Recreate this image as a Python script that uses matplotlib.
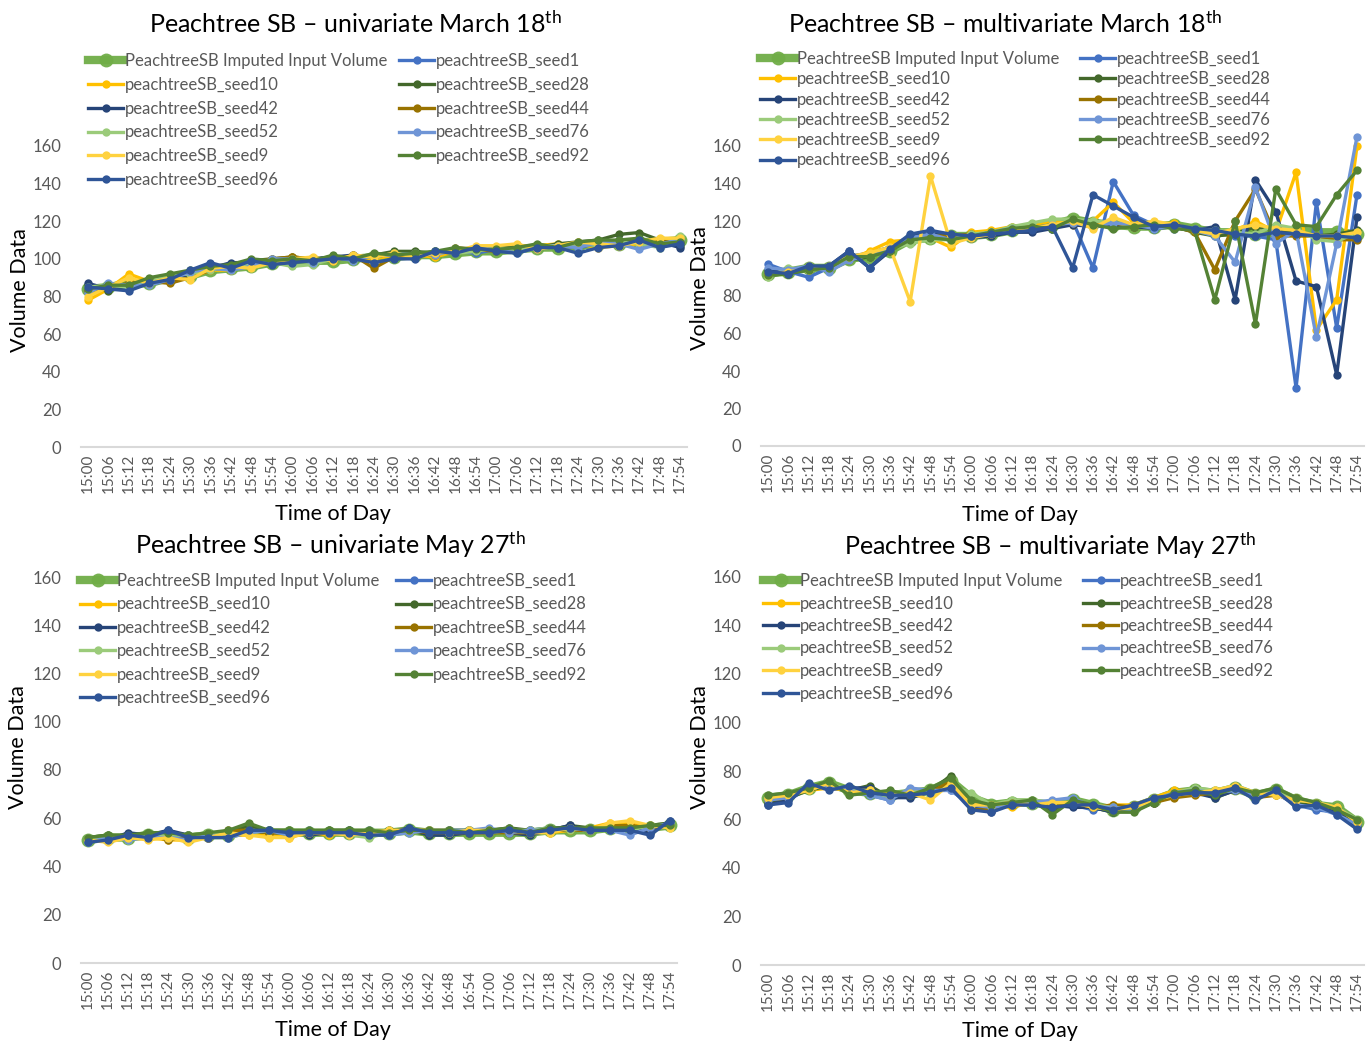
import matplotlib
matplotlib.use('Agg')
import matplotlib.pyplot as plt

plt.rcParams['font.family'] = ['Lato', 'DejaVu Sans']
plt.rcParams['mathtext.fontset'] = 'custom'
plt.rcParams['mathtext.rm'] = 'Lato'
plt.rcParams['mathtext.it'] = 'Lato:italic'
plt.rcParams['mathtext.bf'] = 'Lato:bold'

# ---------------- data ----------------
times = ["15:00", "15:06", "15:12", "15:18", "15:24", "15:30", "15:36", "15:42", "15:48", "15:54",
         "16:00", "16:06", "16:12", "16:18", "16:24", "16:30", "16:36", "16:42", "16:48", "16:54",
         "17:00", "17:06", "17:12", "17:18", "17:24", "17:30", "17:36", "17:42", "17:48", "17:54"]

series_names = ["PeachtreeSB Imputed Input Volume", "peachtreeSB_seed1", "peachtreeSB_seed10",
                "peachtreeSB_seed28", "peachtreeSB_seed42", "peachtreeSB_seed44", "peachtreeSB_seed52",
                "peachtreeSB_seed76", "peachtreeSB_seed9", "peachtreeSB_seed92", "peachtreeSB_seed96"]

y_ticks = [0, 20, 40, 60, 80, 100, 120, 140, 160]

# Univariate, March 18th
uni_mar_imputed = [84, 85, 87, 87, 90, 91, 94, 95, 96, 98, 99, 99, 99, 100, 101, 101, 102, 102, 103, 104, 104, 105, 106, 106, 107, 108, 108, 109, 109, 110]
uni_mar_seed1 = [83, 86, 84, 87, 90, 92, 95, 96, 97, 99, 100, 100, 101, 100, 102, 101, 103, 103, 104, 103, 105, 106, 105, 107, 106, 108, 109, 108, 110, 109]
uni_mar_seed10 = [78, 84, 92, 88, 90, 90, 94, 94, 97, 99, 101, 100, 100, 101, 100, 102, 102, 101, 104, 105, 106, 107, 107, 108, 108, 106, 107, 108, 110, 111]
uni_mar_seed28 = [86, 83, 86, 89, 91, 93, 96, 97, 99, 100, 101, 100, 100, 101, 102, 104, 104, 103, 105, 104, 106, 107, 106, 108, 109, 110, 113, 114, 110, 107]
uni_mar_seed42 = [87, 84, 86, 87, 88, 92, 95, 98, 98, 99, 99, 100, 101, 102, 101, 103, 102, 104, 103, 105, 106, 105, 107, 106, 108, 107, 110, 109, 109, 106]
uni_mar_seed44 = [83, 85, 87, 88, 87, 90, 94, 96, 98, 100, 101, 100, 99, 102, 95, 101, 103, 102, 106, 105, 104, 106, 106, 107, 108, 109, 108, 110, 109, 109]
uni_mar_seed52 = [85, 86, 85, 88, 91, 92, 94, 96, 97, 98, 96, 97, 100, 101, 101, 103, 102, 104, 103, 104, 106, 105, 107, 107, 108, 107, 109, 108, 106, 112]
uni_mar_seed76 = [82, 87, 86, 86, 89, 93, 95, 94, 96, 100, 100, 98, 101, 99, 102, 102, 103, 102, 105, 106, 105, 103, 106, 107, 106, 109, 108, 105, 108, 110]
uni_mar_seed9 = [80, 85, 90, 87, 90, 89, 95, 96, 95, 98, 100, 101, 99, 102, 101, 103, 101, 103, 104, 107, 107, 108, 105, 107, 109, 108, 107, 109, 111, 111]
uni_mar_seed92 = [84, 86, 86, 90, 92, 94, 96, 97, 100, 99, 100, 99, 102, 100, 103, 102, 103, 104, 106, 105, 105, 106, 108, 106, 109, 110, 110, 111, 108, 109]
uni_mar_seed96 = [85, 84, 83, 87, 89, 94, 98, 95, 99, 97, 98, 99, 100, 100, 98, 100, 100, 104, 103, 106, 104, 103, 106, 106, 103, 106, 107, 110, 106, 108]

# Multivariate, March 18th
multi_mar_imputed = [92, 93, 95, 95, 100, 101, 104, 110, 111, 112, 112, 113, 115, 117, 118, 121, 119, 118, 117, 117, 118, 116, 114, 114, 113, 114, 115, 114, 114, 113]
multi_mar_seed1 = [97, 93, 90, 95, 101, 103, 106, 112, 112, 111, 113, 114, 115, 117, 116, 120, 95, 141, 123, 118, 116, 116, 114, 112, 112, 110, 31, 130, 63, 134]
multi_mar_seed10 = [93, 92, 96, 94, 99, 104, 109, 110, 111, 106, 114, 115, 117, 118, 120, 118, 120, 130, 119, 118, 119, 114, 113, 115, 120, 114, 146, 62, 78, 160]
multi_mar_seed28 = [91, 92, 94, 96, 99, 101, 105, 109, 112, 111, 112, 113, 116, 117, 117, 119, 118, 118, 118, 117, 117, 114, 112, 113, 117, 115, 114, 112, 113, 115]
multi_mar_seed42 = [94, 92, 95, 96, 104, 95, 104, 112, 113, 112, 111, 112, 114, 114, 116, 118, 117, 118, 117, 116, 117, 115, 117, 78, 142, 125, 88, 85, 38, 122]
multi_mar_seed44 = [92, 93, 95, 94, 100, 102, 104, 110, 112, 112, 113, 113, 115, 116, 118, 119, 118, 119, 117, 118, 117, 114, 94, 120, 137, 112, 112, 112, 110, 110]
multi_mar_seed52 = [90, 95, 94, 96, 100, 102, 105, 108, 110, 110, 113, 114, 117, 119, 121, 121, 120, 119, 118, 119, 117, 116, 115, 114, 113, 118, 116, 110, 109, 114]
multi_mar_seed76 = [95, 94, 96, 93, 99, 102, 105, 111, 113, 110, 112, 114, 116, 116, 118, 119, 117, 119, 118, 116, 117, 115, 112, 98, 138, 108, 115, 58, 108, 165]
multi_mar_seed9 = [91, 93, 94, 96, 101, 103, 106, 77, 144, 108, 111, 113, 115, 116, 118, 120, 116, 122, 118, 120, 118, 115, 113, 116, 118, 116, 115, 112, 112, 114]
multi_mar_seed92 = [91, 92, 94, 95, 101, 101, 104, 110, 111, 110, 112, 114, 116, 117, 116, 121, 118, 116, 117, 118, 116, 115, 78, 120, 65, 137, 118, 117, 134, 147]
multi_mar_seed96 = [93, 92, 96, 96, 104, 95, 105, 113, 115, 113, 112, 113, 114, 115, 117, 95, 134, 128, 122, 117, 118, 116, 115, 113, 112, 114, 113, 112, 112, 111]

# Univariate, May 27th
uni_may_imputed = [51, 52, 52, 53, 53, 52, 53, 53, 55, 54, 54, 54, 54, 54, 54, 54, 55, 54, 54, 54, 54, 54, 54, 55, 55, 55, 56, 56, 56, 57]
uni_may_seed1 = [50, 52, 53, 52, 53, 52, 52, 53, 54, 55, 54, 54, 54, 55, 54, 53, 55, 55, 54, 55, 55, 55, 55, 56, 56, 55, 55, 55, 54, 58]
uni_may_seed10 = [51, 51, 52, 52, 51, 51, 52, 53, 53, 53, 52, 54, 53, 54, 53, 54, 55, 55, 55, 54, 54, 55, 55, 54, 55, 56, 58, 58, 56, 57]
uni_may_seed28 = [52, 53, 52, 54, 54, 53, 53, 54, 57, 55, 55, 54, 55, 55, 54, 55, 55, 53, 55, 55, 55, 56, 55, 55, 57, 56, 56, 55, 57, 58]
uni_may_seed42 = [51, 51, 54, 53, 55, 53, 52, 53, 55, 54, 54, 53, 54, 53, 54, 54, 56, 53, 53, 54, 55, 54, 53, 55, 57, 55, 56, 56, 54, 59]
uni_may_seed44 = [51, 52, 52, 53, 51, 52, 53, 55, 55, 54, 54, 54, 54, 54, 53, 54, 55, 54, 54, 54, 54, 54, 54, 55, 55, 55, 57, 57, 56, 57]
uni_may_seed52 = [52, 52, 51, 53, 53, 53, 54, 53, 54, 55, 55, 55, 54, 53, 52, 54, 54, 55, 54, 55, 54, 55, 55, 56, 55, 56, 56, 55, 57, 57]
uni_may_seed76 = [50, 52, 51, 52, 52, 51, 53, 52, 54, 55, 53, 55, 54, 54, 55, 53, 54, 55, 55, 55, 56, 54, 55, 55, 56, 55, 55, 53, 56, 58]
uni_may_seed9 = [51, 50, 52, 51, 52, 50, 52, 54, 53, 52, 52, 54, 54, 53, 54, 55, 55, 55, 54, 55, 55, 55, 54, 54, 56, 55, 58, 59, 57, 56]
uni_may_seed92 = [52, 53, 53, 54, 54, 53, 54, 55, 58, 55, 55, 55, 55, 55, 55, 54, 55, 55, 55, 54, 55, 56, 54, 56, 56, 56, 56, 56, 57, 57]
uni_may_seed96 = [50, 51, 53, 52, 55, 52, 52, 52, 55, 55, 54, 54, 54, 54, 53, 53, 56, 54, 54, 54, 54, 55, 54, 55, 56, 55, 55, 55, 53, 59]

# Multivariate, May 27th
multi_may_imputed = [69, 70, 73, 75, 72, 71, 70, 71, 72, 76, 69, 66, 67, 67, 66, 68, 66, 64, 65, 68, 71, 72, 71, 73, 70, 72, 68, 66, 65, 59]
multi_may_seed1 = [67, 68, 73, 73, 72, 70, 68, 71, 72, 72, 66, 64, 66, 66, 67, 66, 64, 65, 64, 67, 70, 71, 70, 73, 70, 72, 66, 64, 63, 58]
multi_may_seed10 = [68, 70, 72, 73, 72, 71, 71, 71, 72, 75, 66, 66, 65, 67, 66, 66, 65, 66, 66, 69, 72, 72, 70, 72, 70, 70, 68, 66, 64, 58]
multi_may_seed28 = [67, 69, 72, 74, 72, 74, 69, 70, 72, 78, 65, 64, 67, 67, 64, 67, 65, 63, 65, 68, 70, 72, 69, 72, 71, 72, 67, 66, 65, 58]
multi_may_seed42 = [66, 68, 74, 73, 73, 73, 69, 69, 71, 74, 66, 63, 67, 67, 66, 65, 65, 63, 65, 67, 70, 71, 69, 72, 70, 71, 66, 65, 63, 57]
multi_may_seed44 = [68, 69, 73, 74, 72, 72, 70, 70, 71, 76, 64, 64, 66, 67, 66, 67, 65, 66, 65, 67, 69, 70, 71, 74, 69, 70, 69, 66, 65, 59]
multi_may_seed52 = [69, 71, 72, 75, 72, 72, 69, 72, 70, 74, 71, 66, 68, 68, 67, 67, 66, 65, 64, 68, 71, 73, 72, 74, 70, 72, 68, 67, 65, 60]
multi_may_seed76 = [68, 69, 73, 74, 72, 70, 68, 73, 72, 72, 66, 65, 66, 67, 68, 69, 65, 65, 64, 68, 71, 72, 71, 72, 70, 71, 66, 65, 62, 58]
multi_may_seed9 = [69, 70, 72, 75, 71, 72, 70, 71, 68, 75, 66, 66, 67, 66, 67, 67, 65, 64, 65, 68, 70, 71, 72, 74, 71, 70, 68, 67, 65, 59]
multi_may_seed92 = [70, 71, 73, 76, 70, 71, 72, 70, 73, 77, 68, 66, 67, 68, 62, 68, 66, 63, 63, 67, 71, 72, 70, 73, 71, 73, 69, 67, 64, 60]
multi_may_seed96 = [66, 67, 75, 72, 74, 71, 70, 70, 71, 73, 64, 63, 66, 66, 65, 66, 66, 64, 66, 69, 70, 71, 71, 73, 68, 72, 65, 66, 62, 56]

# ---------------- styling ----------------
colors = ["#70AD47", "#4472C4", "#FFC000", "#43682B", "#264478", "#997300",
          "#9BCB7A", "#6F95D6", "#FFD23F", "#548235", "#2F5597"]

W, H = 1372, 1043
fig = plt.figure(figsize=(W / 100, H / 100), dpi=100)
GRAY = "#595959"
LEG_FS = 12
LEG_PX = LEG_FS * 100 / 72.0
ROW_BASE = 16.2


def fx(x):
    return x / W


def fy(y):
    return 1 - y / H


panels = [
    dict(title="Peachtree SB \u2013 univariate March 18$^{\\mathrm{th}}$",
         data=[uni_mar_imputed, uni_mar_seed1, uni_mar_seed10, uni_mar_seed28, uni_mar_seed42,
               uni_mar_seed44, uni_mar_seed52, uni_mar_seed76, uni_mar_seed9, uni_mar_seed92, uni_mar_seed96],
         x0=88, x29=680, y0=447, y160=146, ymax=180,
         title_xy=(355, 24), ylab_xy=(20, 290), xlab_xy=(333, 514),
         leg_xy=(88, 53), leg_sp=24, colsp=12),
    dict(title="Peachtree SB \u2013 multivariate March 18$^{\\mathrm{th}}$",
         data=[multi_mar_imputed, multi_mar_seed1, multi_mar_seed10, multi_mar_seed28, multi_mar_seed42,
               multi_mar_seed44, multi_mar_seed52, multi_mar_seed76, multi_mar_seed9, multi_mar_seed92, multi_mar_seed96],
         x0=768, x29=1357, y0=446, y160=146, ymax=180,
         title_xy=(1005, 24), ylab_xy=(700, 288), xlab_xy=(1020, 515),
         leg_xy=(760, 51), leg_sp=20.5, colsp=21),
    dict(title="Peachtree SB \u2013 univariate May 27$^{\\mathrm{th}}$",
         data=[uni_may_imputed, uni_may_seed1, uni_may_seed10, uni_may_seed28, uni_may_seed42,
               uni_may_seed44, uni_may_seed52, uni_may_seed76, uni_may_seed9, uni_may_seed92, uni_may_seed96],
         x0=88, x29=670, y0=963, y160=577, ymax=160,
         title_xy=(330, 545), ylab_xy=(18, 747), xlab_xy=(333, 1030),
         leg_xy=(80, 573), leg_sp=23.6, colsp=17),
    dict(title="Peachtree SB \u2013 multivariate May 27$^{\\mathrm{th}}$",
         data=[multi_may_imputed, multi_may_seed1, multi_may_seed10, multi_may_seed28, multi_may_seed42,
               multi_may_seed44, multi_may_seed52, multi_may_seed76, multi_may_seed9, multi_may_seed92, multi_may_seed96],
         x0=768, x29=1357, y0=965, y160=577, ymax=160,
         title_xy=(1050, 546), ylab_xy=(700, 747), xlab_xy=(1020, 1031),
         leg_xy=(763, 573), leg_sp=22.7, colsp=21),
]

order = [0, 2, 4, 6, 8, 10, 1, 3, 5, 7, 9]

for p in panels:
    ppx = (p["x29"] - p["x0"]) / 29.0
    ppy = (p["y0"] - p["y160"]) / 160.0
    pad = 0.35
    left = p["x0"] - pad * ppx
    width = (29 + 2 * pad) * ppx
    bottom = p["y0"]
    height = p["ymax"] * ppy
    ax = fig.add_axes([fx(left), fy(bottom), width / W, height / H])
    ax.set_xlim(-pad, 29 + pad)
    ax.set_ylim(0, p["ymax"])
    xs = list(range(len(times)))
    handles = []
    for k, (name, vals) in enumerate(zip(series_names, p["data"])):
        if k == 0:
            ln, = ax.plot(xs, vals, color=colors[k], lw=6, marker='o', ms=10,
                          markeredgewidth=0, label=name, zorder=2, alpha=0.95)
        else:
            ln, = ax.plot(xs, vals, color=colors[k], lw=2.4, marker='o', ms=6,
                          markeredgewidth=0, label=name, zorder=3 + k)
        handles.append(ln)
    for s in ["top", "right", "left"]:
        ax.spines[s].set_visible(False)
    ax.spines["bottom"].set_color("#D9D9D9")
    ax.spines["bottom"].set_linewidth(1.5)
    ax.set_xticks(xs)
    ax.set_xticklabels(times, rotation=90, fontsize=11, color=GRAY)
    ax.set_yticks(y_ticks)
    ax.set_yticklabels([str(v) for v in y_ticks], fontsize=12, color=GRAY)
    ax.tick_params(length=0)
    ax.tick_params(axis='y', pad=14)
    ax.tick_params(axis='x', pad=5)

    fig.text(fx(p["title_xy"][0]), fy(p["title_xy"][1]), p["title"], ha='center', va='center',
             fontsize=18, color='black')
    fig.text(fx(p["ylab_xy"][0]), fy(p["ylab_xy"][1]), "Volume Data", rotation=90, ha='center',
             va='center', fontsize=15.5, color='black')
    fig.text(fx(p["xlab_xy"][0]), fy(p["xlab_xy"][1]), "Time of Day", ha='center', va='center',
             fontsize=15.5, color='black')

    hs = [handles[i] for i in order]
    ls = [series_names[i] for i in order]
    leg = fig.legend(hs, ls, loc='upper left', bbox_to_anchor=(fx(p["leg_xy"][0]), fy(p["leg_xy"][1])),
                     ncol=2, frameon=True, fontsize=LEG_FS, labelcolor=GRAY, handlelength=2.1,
                     handletextpad=0.1, borderpad=0.0, borderaxespad=0.0,
                     labelspacing=(p["leg_sp"] - ROW_BASE) / LEG_PX,
                     columnspacing=p["colsp"] / LEG_PX, numpoints=1)
    leg.get_frame().set_facecolor('white')
    leg.get_frame().set_edgecolor('none')
    leg.get_frame().set_alpha(1.0)
    leg.set_zorder(20)

fig.savefig("out.png", dpi=100, facecolor='white')
